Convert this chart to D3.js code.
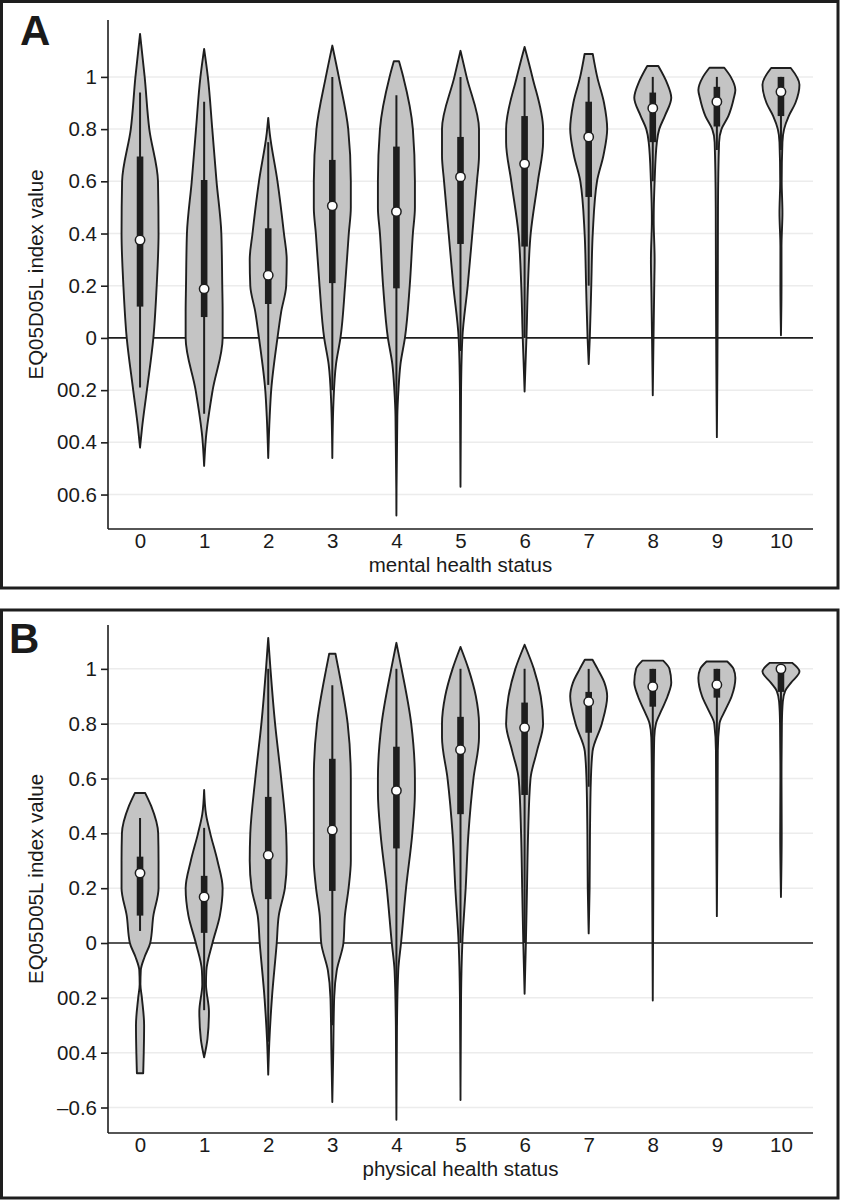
<!DOCTYPE html>
<html>
<head>
<meta charset="utf-8">
<script src="https://cdn.jsdelivr.net/npm/d3@7"></script>
<style>
  body { margin: 0; background: #fff; }
  svg text { font-family: "Liberation Sans", Arial, sans-serif; fill: #1a1a1a; }
</style>
</head>
<body>
<div id="chart"></div>
<script>
// categories shared by both panels (self-rated status 0-10)
const categories = ["0", "1", "2", "3", "4", "5", "6", "7", "8", "9", "10"];

// y tick values and printed labels (labels kept as in the figure)
const tickValues = [1, 0.8, 0.6, 0.4, 0.2, 0, -0.2, -0.4, -0.6];
const tickLabelsA = ["1", "0.8", "0.6", "0.4", "0.2", "0", "00.2", "00.4", "00.6"];
const tickLabelsB = ["1", "0.8", "0.6", "0.4", "0.2", "0", "00.2", "00.4", "\u20130.6"];

// panel A - mental health status: box summaries
const mentalMedian = [0.375, 0.188, 0.24, 0.506, 0.484, 0.617, 0.667, 0.77, 0.88, 0.905, 0.943];
const mentalQ1 = [0.12, 0.08, 0.13, 0.21, 0.19, 0.36, 0.35, 0.54, 0.75, 0.81, 0.85];
const mentalQ3 = [0.695, 0.605, 0.42, 0.682, 0.733, 0.77, 0.85, 0.905, 0.94, 0.962, 1.0];
const mentalWhiskerLo = [-0.19, -0.29, -0.18, -0.2, -0.3, -0.05, 0.0, 0.2, 0.6, 0.72, 0.72];
const mentalWhiskerHi = [0.94, 0.905, 0.75, 1.0, 0.93, 1.0, 1.0, 1.0, 1.0, 1.0, 1.0];
// density profile per category: [value, relative density]
const mentalDensity = [
  [[-0.42, 0], [-0.35, 0.1], [-0.2, 0.37], [0, 0.72], [0.2, 0.9], [0.4, 1.0], [0.6, 0.97], [0.8, 0.5], [1.0, 0.25], [1.165, 0]],
  [[-0.49, 0], [-0.38, 0.1], [-0.2, 0.46], [0, 1.0], [0.1, 1.0], [0.2, 0.98], [0.4, 0.93], [0.6, 0.67], [0.8, 0.44], [1.0, 0.2], [1.107, 0]],
  [[-0.46, 0], [-0.3, 0.08], [-0.2, 0.16], [0, 0.5], [0.1, 0.7], [0.2, 0.97], [0.3, 1.0], [0.4, 0.85], [0.6, 0.5], [0.785, 0.08], [0.843, 0]],
  [[-0.46, 0], [-0.25, 0.06], [-0.1, 0.2], [0, 0.44], [0.2, 0.69], [0.4, 0.89], [0.5, 1.0], [0.6, 1.0], [0.8, 0.86], [1.0, 0.35], [1.12, 0]],
  [[-0.68, 0], [-0.3, 0.05], [-0.2, 0.11], [-0.1, 0.22], [0, 0.46], [0.2, 0.72], [0.4, 0.89], [0.5, 1.0], [0.6, 1.0], [0.8, 0.89], [1.0, 0.37], [1.06, 0.14]],
  [[-0.57, 0], [-0.2, 0.03], [0, 0.1], [0.2, 0.39], [0.4, 0.64], [0.6, 0.89], [0.7, 1.0], [0.8, 1.0], [1.0, 0.33], [1.1, 0]],
  [[-0.205, 0], [-0.1, 0.05], [0, 0.1], [0.2, 0.18], [0.4, 0.33], [0.6, 0.72], [0.75, 1.0], [0.8, 1.0], [1.0, 0.42], [1.115, 0]],
  [[-0.1, 0], [0, 0.06], [0.2, 0.14], [0.4, 0.22], [0.6, 0.45], [0.7, 0.8], [0.8, 1.0], [0.9, 0.83], [1.0, 0.46], [1.088, 0.22]],
  [[-0.22, 0], [0, 0.04], [0.2, 0.08], [0.3, 0.1], [0.45, 0.05], [0.6, 0.1], [0.75, 0.22], [0.8, 0.35], [0.85, 0.65], [0.92, 1.0], [0.98, 0.75], [1.042, 0.3]],
  [[-0.38, 0], [-0.1, 0.03], [0.2, 0.05], [0.5, 0.06], [0.75, 0.12], [0.8, 0.25], [0.85, 0.62], [0.92, 0.92], [0.95, 1.0], [1.0, 0.75], [1.035, 0.4]],
  [[0.01, 0], [0.2, 0.03], [0.35, 0.03], [0.48, 0.08], [0.6, 0.04], [0.75, 0.08], [0.8, 0.17], [0.85, 0.42], [0.9, 0.78], [0.97, 1.0], [1.034, 0.53]],
];

// panel B - physical health status: box summaries
const physicalMedian = [0.255, 0.168, 0.32, 0.412, 0.556, 0.705, 0.785, 0.88, 0.935, 0.942, 1.0];
const physicalQ1 = [0.1, 0.037, 0.16, 0.19, 0.345, 0.47, 0.54, 0.767, 0.862, 0.895, 0.916];
const physicalQ3 = [0.315, 0.245, 0.533, 0.672, 0.716, 0.825, 0.877, 0.916, 1.0, 1.0, 1.0];
const physicalWhiskerLo = [0.044, -0.245, -0.36, -0.3, -0.3, 0.0, 0.0, 0.57, 0.6, 0.7, 0.8];
const physicalWhiskerHi = [0.456, 0.42, 1.0, 0.94, 1.0, 1.0, 1.0, 1.0, 1.0, 1.0, 1.0];
const physicalDensity = [
  [[-0.475, 0.17], [-0.4, 0.2], [-0.3, 0.22], [-0.2, 0.1], [-0.15, 0.02], [-0.1, 0.04], [-0.05, 0.25], [0, 0.55], [0.1, 0.72], [0.2, 1.0], [0.3, 1.0], [0.4, 0.98], [0.5, 0.6], [0.547, 0.28]],
  [[-0.417, 0], [-0.35, 0.18], [-0.25, 0.26], [-0.15, 0.1], [-0.1, 0.12], [0, 0.45], [0.1, 0.85], [0.2, 1.0], [0.3, 0.72], [0.4, 0.33], [0.47, 0.1], [0.558, 0]],
  [[-0.48, 0], [-0.36, 0.06], [-0.2, 0.2], [0, 0.46], [0.1, 0.57], [0.2, 0.9], [0.3, 1.0], [0.4, 0.97], [0.6, 0.7], [0.8, 0.37], [1.0, 0.12], [1.113, 0]],
  [[-0.58, 0], [-0.4, 0.05], [-0.2, 0.1], [-0.1, 0.24], [0, 0.6], [0.1, 0.68], [0.2, 0.88], [0.3, 1.0], [0.5, 1.0], [0.6, 1.0], [0.8, 0.83], [1.0, 0.33], [1.055, 0.17]],
  [[-0.645, 0], [-0.3, 0.03], [-0.1, 0.1], [0, 0.25], [0.2, 0.52], [0.4, 0.86], [0.55, 1.0], [0.6, 1.0], [0.8, 0.8], [1.0, 0.28], [1.095, 0]],
  [[-0.573, 0], [-0.2, 0.03], [0, 0.1], [0.2, 0.28], [0.4, 0.43], [0.6, 0.7], [0.75, 1.0], [0.8, 1.0], [0.9, 0.83], [1.0, 0.43], [1.08, 0]],
  [[-0.185, 0], [0, 0.07], [0.2, 0.13], [0.4, 0.19], [0.6, 0.32], [0.7, 0.67], [0.8, 1.0], [0.9, 0.87], [1.0, 0.5], [1.088, 0]],
  [[0.035, 0], [0.2, 0.05], [0.4, 0.07], [0.6, 0.12], [0.7, 0.21], [0.8, 0.71], [0.9, 1.0], [0.95, 0.85], [1.0, 0.48], [1.033, 0.21]],
  [[-0.21, 0], [0.2, 0.03], [0.6, 0.05], [0.75, 0.08], [0.8, 0.17], [0.85, 0.48], [0.9, 0.8], [0.95, 1.0], [1.0, 0.9], [1.03, 0.56]],
  [[0.098, 0], [0.4, 0.03], [0.7, 0.05], [0.8, 0.14], [0.85, 0.46], [0.9, 0.8], [0.967, 1.0], [1.0, 0.9], [1.027, 0.56]],
  [[0.168, 0], [0.4, 0.04], [0.6, 0.03], [0.8, 0.05], [0.88, 0.1], [0.92, 0.23], [0.95, 0.55], [0.99, 1.0], [1.022, 0.6]],
];

const w = 841;
const h = 1200;
const dark = "#1e1e1e";
const fontSize = 20.5;

const svg = d3
  .select("#chart")
  .append("svg")
  .attr("width", w)
  .attr("height", h)
  .attr("viewBox", [0, 0, w, h]);

// one violin panel: frame, letter, axes, violins
function drawPanel(cfg) {
  const left = 108;
  const right = 813;

  // frame round the panel
  svg
    .append("rect")
    .attr("x", 1.5)
    .attr("y", cfg.frameTop)
    .attr("width", 836.5)
    .attr("height", cfg.frameBottom - cfg.frameTop)
    .attr("fill", "none")
    .attr("stroke", dark)
    .attr("stroke-width", 3);

  svg
    .append("text")
    .attr("x", cfg.letterX)
    .attr("y", cfg.letterY)
    .attr("font-size", 42)
    .attr("font-weight", "bold")
    .text(cfg.letter);

  const xScale = d3.scalePoint().domain(categories).range([left, right]).padding(0.5);
  const yScale = d3.scaleLinear().domain(cfg.domain).range([cfg.bottom, cfg.top]);
  const wScale = d3.scaleLinear().domain([0, 1]).range([0, 18.5]);

  const g = svg.append("g");

  // light gridlines
  g.selectAll(".grid")
    .data(tickValues.filter((d) => d !== 0))
    .enter()
    .append("line")
    .attr("x1", left)
    .attr("x2", right)
    .attr("y1", (d) => yScale(d))
    .attr("y2", (d) => yScale(d))
    .attr("stroke", "#ececec")
    .attr("stroke-width", 1.5);

  // reference line at zero
  g.append("line")
    .attr("x1", left)
    .attr("x2", right)
    .attr("y1", yScale(0))
    .attr("y2", yScale(0))
    .attr("stroke", dark)
    .attr("stroke-width", 1.7);

  // violins drawn from density profile
  const violin = (i) =>
    d3
      .area()
      .curve(d3.curveMonotoneY)
      .y((d) => yScale(d[0]))
      .x0((d) => xScale(categories[i]) - wScale(d[1]))
      .x1((d) => xScale(categories[i]) + wScale(d[1]));

  g.selectAll(".violin")
    .data(cfg.density)
    .enter()
    .append("path")
    .attr("class", "violin")
    .attr("d", (d, i) => violin(i)(d.slice().sort((a, b) => b[0] - a[0])))
    .attr("fill", "#c4c4c4")
    .attr("stroke", dark)
    .attr("stroke-width", 1.9)
    .attr("stroke-linejoin", "round");

  // whiskers
  g.selectAll(".whisker")
    .data(categories)
    .enter()
    .append("line")
    .attr("x1", (d) => xScale(d))
    .attr("x2", (d) => xScale(d))
    .attr("y1", (d, i) => yScale(cfg.whiskerLo[i]))
    .attr("y2", (d, i) => yScale(cfg.whiskerHi[i]))
    .attr("stroke", dark)
    .attr("stroke-width", 2);

  // interquartile boxes
  g.selectAll(".box")
    .data(categories)
    .enter()
    .append("rect")
    .attr("x", (d) => xScale(d) - 3.3)
    .attr("width", 6.6)
    .attr("y", (d, i) => yScale(cfg.q3[i]))
    .attr("height", (d, i) => yScale(cfg.q1[i]) - yScale(cfg.q3[i]))
    .attr("fill", dark);

  // medians
  g.selectAll(".median")
    .data(categories)
    .enter()
    .append("circle")
    .attr("cx", (d) => xScale(d))
    .attr("cy", (d, i) => yScale(cfg.median[i]))
    .attr("r", 4.7)
    .attr("fill", "#fff")
    .attr("stroke", dark)
    .attr("stroke-width", 1.5);

  // y axis with the figure's own labels
  const yAxis = svg
    .append("g")
    .attr("transform", `translate(${left}, 0)`)
    .call(
      d3
        .axisLeft(yScale)
        .tickValues(tickValues)
        .tickSize(7)
        .tickPadding(4)
        .tickFormat((d, i) => cfg.tickLabels[i])
    );
  yAxis.select(".domain").attr("d", `M0,${cfg.top}V${cfg.bottom}`).attr("stroke", dark).attr("stroke-width", 1.6);
  yAxis.selectAll(".tick line").attr("stroke", dark).attr("stroke-width", 1.6);
  yAxis.selectAll("text").attr("font-size", fontSize).attr("font-family", "Liberation Sans, Arial").attr("fill", "#1a1a1a");

  // x axis: line and category labels, no tick marks
  const xAxis = svg
    .append("g")
    .attr("transform", `translate(0, ${cfg.bottom})`)
    .call(d3.axisBottom(xScale).tickSize(0).tickPadding(4.5));
  xAxis.select(".domain").attr("d", `M${left},0H${right}`).attr("stroke", dark).attr("stroke-width", 1.6);
  xAxis.selectAll("text").attr("font-size", fontSize).attr("font-family", "Liberation Sans, Arial").attr("fill", "#1a1a1a");

  svg
    .append("text")
    .attr("x", (left + right) / 2)
    .attr("y", cfg.bottom + 43)
    .attr("text-anchor", "middle")
    .attr("font-size", fontSize)
    .text(cfg.xLabel);

  svg
    .append("text")
    .attr("transform", `translate(43, ${(cfg.top + cfg.bottom) / 2}) rotate(-90)`)
    .attr("text-anchor", "middle")
    .attr("font-size", fontSize)
    .text("EQ05D05L index value");
}

drawPanel({
  letter: "A",
  letterX: 20,
  letterY: 45,
  frameTop: 1.5,
  frameBottom: 588,
  top: 20,
  bottom: 529,
  domain: [-0.732, 1.218],
  tickLabels: tickLabelsA,
  median: mentalMedian,
  q1: mentalQ1,
  q3: mentalQ3,
  whiskerLo: mentalWhiskerLo,
  whiskerHi: mentalWhiskerHi,
  density: mentalDensity,
  xLabel: "mental health status",
});

drawPanel({
  letter: "B",
  letterX: 9,
  letterY: 653,
  frameTop: 610,
  frameBottom: 1198,
  top: 625,
  bottom: 1133,
  domain: [-0.693, 1.16],
  tickLabels: tickLabelsB,
  median: physicalMedian,
  q1: physicalQ1,
  q3: physicalQ3,
  whiskerLo: physicalWhiskerLo,
  whiskerHi: physicalWhiskerHi,
  density: physicalDensity,
  xLabel: "physical health status",
});
</script>
</body>
</html>
